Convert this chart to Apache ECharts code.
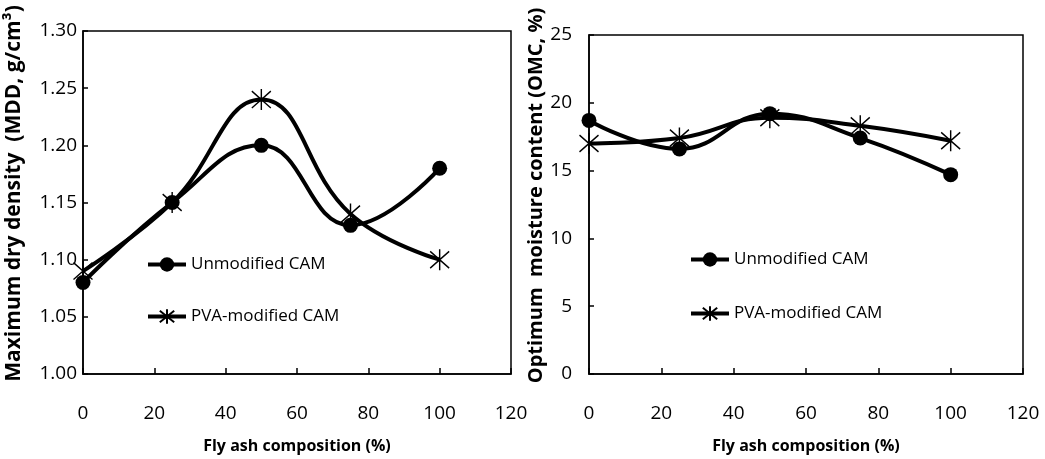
<!DOCTYPE html>
<html>
<head>
<meta charset="utf-8">
<script src="https://cdn.jsdelivr.net/npm/echarts@6/dist/echarts.min.js"></script>
<style>
  html, body { margin: 0; padding: 0; background: #fff; }
  #main { width: 1045px; height: 459px; }
</style>
</head>
<body>
<div id="main"></div>
<script>
// fly ash composition (%)
var flyAsh = [0, 25, 50, 75, 100]
// maximum dry density (g/cm3)
var mddUnmodified = [1.08, 1.15, 1.20, 1.13, 1.18]
var mddPva = [1.09, 1.15, 1.24, 1.14, 1.10]
// optimum moisture content (%)
var omcUnmodified = [18.7, 16.6, 19.2, 17.4, 14.7]
var omcPva = [17.0, 17.4, 18.9, 18.3, 17.2]

var seriesNames = ['Unmodified CAM', 'PVA-modified CAM']
var starPath = 'path://M0,-10L0,10M-9,-8L9,8M-9,8L9,-8'
var font = 'Open Sans'

function pairs(xs, ys) {
  return xs.map(function(x, i) { return [x, ys[i]] })
}

function xAxisFor(gridIndex) {
  return {
    type: 'value',
    gridIndex: gridIndex,
    min: 0,
    max: 120,
    interval: 20,
    name: 'Fly ash composition (%)',
    nameLocation: 'middle',
    nameGap: 64,
    nameTextStyle: { color: '#000', fontFamily: font, fontSize: 16, fontWeight: 'bold' },
    axisLine: { lineStyle: { color: '#000', width: 1.5 } },
    axisTick: { inside: true, length: 6, lineStyle: { color: '#000', width: 1.5 } },
    axisLabel: { color: '#000', fontFamily: font, fontSize: 19, margin: 30 },
    splitLine: { show: false }
  }
}

function yAxisFor(gridIndex, opts) {
  return {
    type: 'value',
    gridIndex: gridIndex,
    min: opts.min,
    max: opts.max,
    interval: opts.interval,
    name: opts.name,
    nameLocation: 'middle',
    nameGap: opts.nameGap,
    nameTextStyle: { color: '#000', fontFamily: font, fontSize: opts.nameSize, fontWeight: 'bold', padding: [0, 0, 0, 18] },
    axisLine: { lineStyle: { color: '#000', width: 1.5 } },
    axisTick: { inside: true, length: 5, lineStyle: { color: '#000', width: 1.5 } },
    axisLabel: { color: '#000', fontFamily: font, fontSize: 19, margin: opts.labelMargin, formatter: opts.formatter },
    splitLine: { show: false }
  }
}

function lineSeries(name, gridIndex, data, star) {
  return {
    name: name,
    type: 'line',
    xAxisIndex: gridIndex,
    yAxisIndex: gridIndex,
    data: data,
    smooth: 0.45,
    symbol: star ? starPath : 'circle',
    symbolSize: star ? [19, 21] : 15,
    symbolKeepAspect: false,
    lineStyle: { color: '#000', width: 4 },
    itemStyle: star ? { color: '#000', borderColor: '#000', borderWidth: 1.5 } : { color: '#000' },
    z: star ? 3 : 2,
    animation: false
  }
}

function legendFor(left, top, gap) {
  return {
    data: seriesNames,
    orient: 'vertical',
    left: left,
    top: top,
    padding: 0,
    itemGap: gap,
    itemWidth: 38,
    itemHeight: 18,
    lineStyle: { color: '#000', width: 4 },
    textStyle: { color: '#000', fontFamily: font, fontSize: 17 },
    selectedMode: false
  }
}

var chart = echarts.init(document.getElementById('main'), null, { renderer: 'canvas' })
chart.setOption({
  backgroundColor: '#fff',
  grid: [
    { left: 83, right: 534, top: 31, bottom: 83, show: true, borderColor: '#000', borderWidth: 1.5 },
    { left: 589, right: 22, top: 35, bottom: 85, show: true, borderColor: '#000', borderWidth: 1.5 }
  ],
  legend: [legendFor(146, 256, 35), legendFor(689, 251, 37)],
  xAxis: [xAxisFor(0), xAxisFor(1)],
  yAxis: [
    yAxisFor(0, {
      min: 1.0, max: 1.3, interval: 0.05,
      name: 'Maximum dry density  (MDD, g/cm\u00b3)',
      nameGap: 58, nameSize: 21, labelMargin: 6,
      formatter: function(v) { return v.toFixed(2) }
    }),
    yAxisFor(1, {
      min: 0, max: 25, interval: 5,
      name: 'Optimum  moisture content (OMC, %)',
      nameGap: 42, nameSize: 20, labelMargin: 17
    })
  ],
  series: [
    lineSeries(seriesNames[0], 0, pairs(flyAsh, mddUnmodified), false),
    lineSeries(seriesNames[1], 0, pairs(flyAsh, mddPva), true),
    lineSeries(seriesNames[0], 1, pairs(flyAsh, omcUnmodified), false),
    lineSeries(seriesNames[1], 1, pairs(flyAsh, omcPva), true)
  ]
})
</script>
</body>
</html>
